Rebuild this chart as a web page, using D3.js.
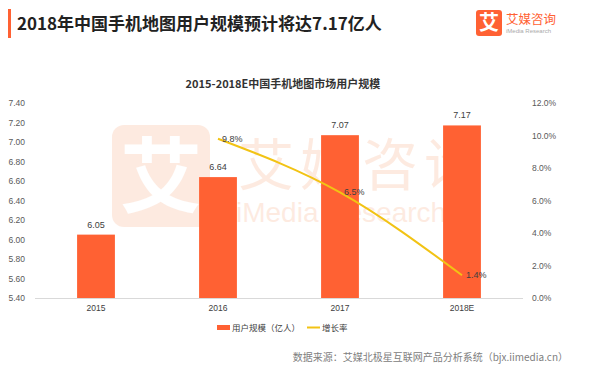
<!DOCTYPE html>
<html><head><meta charset="utf-8">
<script src="https://cdn.jsdelivr.net/npm/d3@7"></script>
<style>
html,body{margin:0;padding:0;background:#fff;}
svg{display:block;font-family:"Noto Sans CJK SC","Noto Sans",sans-serif;}
</style></head>
<body>
<svg id="chart" width="600" height="382"></svg>
<script>
const years = ["2015", "2016", "2017", "2018E"];
const users = [6.05, 6.64, 7.07, 7.17];
const growthYears = ["2016", "2017", "2018E"];
const growth = [9.8, 6.5, 1.4];
const leftTicks = [5.4, 5.6, 5.8, 6.0, 6.2, 6.4, 6.6, 6.8, 7.0, 7.2, 7.4];
const rightTicks = [0, 2, 4, 6, 8, 10, 12];

const title = "2018年中国手机地图用户规模预计将达7.17亿人";
const subtitle = "2015-2018E中国手机地图市场用户规模";
const legendLabels = ["用户规模（亿人）", "增长率"];
const source = "数据来源：艾媒北极星互联网产品分析系统（bjx.iimedia.cn）";

const barColor = "#FF6133", lineColor = "#F2C314";
const svg = d3.select("#chart");

// header
svg.append("rect").attr("x", 8).attr("y", 9).attr("width", 3).attr("height", 29).attr("fill", "#FF6133");
svg.append("text").attr("x", 17).attr("y", 30).attr("font-size", 17).attr("font-weight", "bold")
  .attr("fill", "#222").text(title);
// logo
svg.append("rect").attr("x", 476).attr("y", 10).attr("width", 26).attr("height", 26).attr("rx", 3).attr("fill", "#FF6133");
svg.append("text").attr("x", 489).attr("y", 30).attr("text-anchor", "middle").attr("font-size", 20)
  .attr("font-weight", "bold").attr("fill", "#fff").text("艾");
svg.append("text").attr("x", 506).attr("y", 24).attr("font-size", 12.5).attr("fill", "#FF6133").text("艾媒咨询");
svg.append("text").attr("x", 506).attr("y", 33).attr("font-size", 6).attr("fill", "#aaa")
  .attr("font-family", "Liberation Sans, sans-serif").text("iMedia Research");

// watermark
const wm = svg.append("g").attr("opacity", 0.17);
wm.append("rect").attr("x", 112).attr("y", 125).attr("width", 98).attr("height", 102).attr("rx", 12).attr("fill", "#F58A50");
wm.append("text").attr("x", 161).attr("y", 206).attr("text-anchor", "middle").attr("font-size", 82)
  .attr("font-weight", "bold").attr("fill", "#fff").text("艾");
wm.append("text").attr("x", 238).attr("y", 185).attr("font-size", 56).attr("letter-spacing", 6)
  .attr("fill", "#F58A50").text("艾媒咨询");
wm.append("text").attr("x", 236).attr("y", 222).attr("font-size", 28).attr("fill", "#F58A50")
  .attr("font-family", "Liberation Sans, sans-serif").text("iMedia Research");

// subtitle
svg.append("text").attr("x", 283).attr("y", 88).attr("text-anchor", "middle").attr("font-size", 11)
  .attr("font-weight", "bold").attr("fill", "#333").text(subtitle);

const x = d3.scaleBand().domain(years).range([35, 523]).paddingInner(0.69).paddingOuter(0.345);
const yL = d3.scaleLinear().domain([5.4, 7.4]).range([298, 103]);
const yR = d3.scaleLinear().domain([0, 12]).range([298, 103]);

// left axis
const la = svg.append("g").attr("transform", "translate(25,0)")
  .call(d3.axisLeft(yL).tickValues(leftTicks).tickFormat(d3.format(".2f")).tickSize(0).tickPadding(0));
la.select(".domain").remove();
la.selectAll("text").attr("font-size", 8.5).attr("fill", "#595959").attr("font-family", "Liberation Sans, sans-serif");

// right axis
const ra = svg.append("g").attr("transform", "translate(532,0)")
  .call(d3.axisRight(yR).tickValues(rightTicks).tickFormat(d => d.toFixed(1) + "%").tickSize(0).tickPadding(0));
ra.select(".domain").remove();
ra.selectAll("text").attr("font-size", 8.5).attr("fill", "#595959").attr("font-family", "Liberation Sans, sans-serif");

// bars
svg.append("g").selectAll("rect").data(years).join("rect")
  .attr("x", d => x(d)).attr("width", x.bandwidth())
  .attr("y", (d, i) => yL(users[i])).attr("height", (d, i) => 298 - yL(users[i]))
  .attr("fill", barColor);
svg.append("g").selectAll("text").data(years).join("text")
  .attr("x", d => x(d) + x.bandwidth() / 2).attr("y", (d, i) => yL(users[i]) - 7)
  .attr("text-anchor", "middle").attr("font-size", 9).attr("fill", "#404040")
  .attr("font-family", "Liberation Sans, sans-serif")
  .text((d, i) => users[i].toFixed(2));

// baseline
svg.append("line").attr("x1", 35).attr("x2", 523).attr("y1", 298.5).attr("y2", 298.5).attr("stroke", "#d9d9d9");

// x axis labels
const xa = svg.append("g").attr("transform", "translate(0,305)")
  .call(d3.axisBottom(x).tickSize(0).tickPadding(0));
xa.select(".domain").remove();
xa.selectAll("text").attr("font-size", 8.5).attr("fill", "#404040").attr("font-family", "Liberation Sans, sans-serif");

// line
const pts = growthYears.map((g, i) => [x(g) + x.bandwidth() / 2, yR(growth[i])]);
svg.append("path").attr("d", d3.line().curve(d3.curveMonotoneX)(pts)).attr("fill", "none")
  .attr("stroke", lineColor).attr("stroke-width", 2);
svg.append("g").selectAll("text").data(growthYears).join("text")
  .attr("x", (d, i) => pts[i][0] + 4).attr("y", (d, i) => pts[i][1] + 3)
  .attr("font-size", 9).attr("fill", "#404040").attr("font-family", "Liberation Sans, sans-serif")
  .text((d, i) => growth[i].toFixed(1) + "%");

// legend
svg.append("rect").attr("x", 217).attr("y", 325).attr("width", 13).attr("height", 5).attr("fill", barColor);
svg.append("text").attr("x", 232).attr("y", 331).attr("font-size", 8.5).attr("fill", "#404040").text(legendLabels[0]);
svg.append("line").attr("x1", 307).attr("x2", 320).attr("y1", 327.5).attr("y2", 327.5).attr("stroke", lineColor).attr("stroke-width", 2);
svg.append("text").attr("x", 322).attr("y", 331).attr("font-size", 8.5).attr("fill", "#404040").text(legendLabels[1]);

// source
svg.append("text").attr("x", 568).attr("y", 361).attr("text-anchor", "end").attr("font-size", 10)
  .attr("fill", "#808080").text(source);
</script>
</body></html>
